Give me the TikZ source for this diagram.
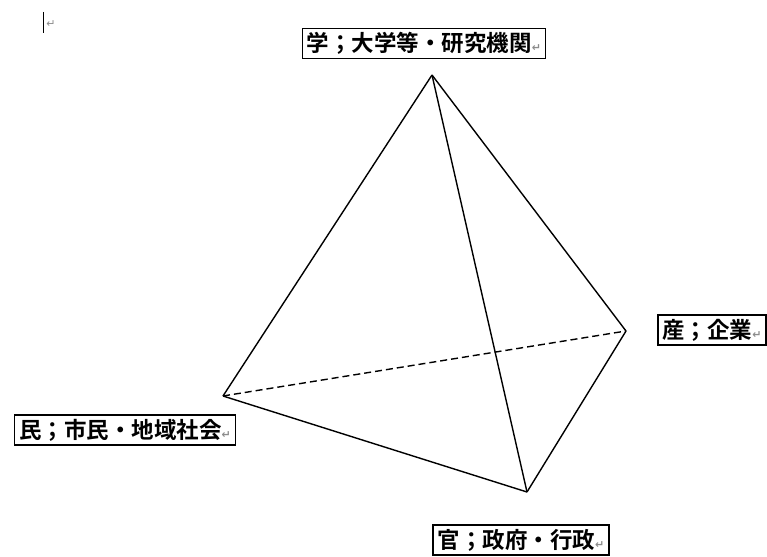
\documentclass[tikz,border=0pt]{standalone}
\usepackage{fontspec}
\newfontfamily\jpfont{Noto Sans CJK JP}[BoldFont={* Bold}]
\newfontfamily\symfont{DejaVu Sans}
\newcommand{\pmark}{{\color{black!45}\fontsize{11}{11}\selectfont\symfont ↵}}
\begin{document}
\begin{tikzpicture}[x=1pt,y=-1pt,
  lbl/.style={draw=black, line width=1.3pt, fill=white, inner xsep=4.5pt, inner ysep=3pt,
    minimum height=30pt, font=\jpfont\bfseries\fontsize{22.5}{22.5}\selectfont},
  edge/.style={line width=1.4pt, line join=round},
  hidden/.style={line width=1.4pt, dash pattern=on 7pt off 4pt}]
\useasboundingbox (0,0) rectangle (767,556);
% vertices
\coordinate (A) at (432,75);
\coordinate (L) at (223,396);
\coordinate (R) at (626,331);
\coordinate (B) at (527,492);
% edges
\draw[hidden] (L) -- (R);
\draw[edge] (A) -- (L);
\draw[edge] (A) -- (R);
\draw[edge] (A) -- (B);
\draw[edge] (L) -- (B);
\draw[edge] (B) -- (R);
% labels
\node[lbl] (gaku) at (424,43.5) {学；大学等・研究機関\pmark};
\node[lbl] (san) at (712,330) {産；企業\pmark};
\node[lbl] (min) at (125,430) {民；市民・地域社会\pmark};
\node[lbl] (kan) at (521,540) {官；政府・行政\pmark};
% cursor mark
\coordinate (c1) at (43,12);
\coordinate (c2) at (43,33);
\draw[line width=0.8pt] (c1) -- (c2);
\node[inner sep=0pt] (cur) at (51,24) {\pmark};
\end{tikzpicture}
\end{document}
